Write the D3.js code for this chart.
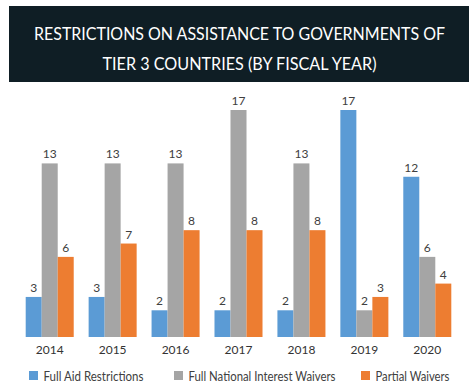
<!DOCTYPE html>
<html><head><meta charset="utf-8">
<script src="https://cdn.jsdelivr.net/npm/d3@7"></script>
<style>body{margin:0;background:#fff}svg{display:block}</style>
</head><body>
<svg id="c" width="474" height="387"></svg>
<script>
const years = ["2014","2015","2016","2017","2018","2019","2020"];
const fullAid = [3,3,2,2,2,17,12];
const nationalWaivers = [13,13,13,17,13,2,6];
const partialWaivers = [6,7,8,8,8,3,4];
const seriesNames = ["Full Aid Restrictions","Full National Interest Waivers","Partial Waivers"];
const colors = ["#5b9bd5","#a5a5a5","#ed7d31"];
const titleLines = ["RESTRICTIONS ON ASSISTANCE TO GOVERNMENTS OF","TIER 3 COUNTRIES (BY FISCAL YEAR)"];

const svg = d3.select("#c");
const font = "Lato, 'Open Sans', sans-serif";
const titleWidths = [411, 274];
const legWidths = [100, 147, 74];

svg.append("rect").attr("x",9).attr("y",6).attr("width",460).attr("height",76).attr("fill","#0f1e25");
svg.selectAll("text.title").data(titleLines).enter().append("text")
  .attr("x",239.5).attr("y",(d,i)=>39.5+i*30).attr("text-anchor","middle")
  .attr("fill","#ffffff").attr("font-family",font).attr("font-size",16.5)
  .attr("textLength",(d,i)=>titleWidths[i]).attr("lengthAdjust","spacingAndGlyphs")
  .text(d=>d);

const x = d3.scaleBand().domain(years).range([25.7,451.3]).paddingInner(0.237).paddingOuter(0);
const xs = d3.scaleBand().domain([0,1,2]).range([0,x.bandwidth()]);
const y = d3.scaleLinear().domain([0,17]).range([337,110]);

const series = [fullAid, nationalWaivers, partialWaivers];
const rows = [];
years.forEach((yr,i)=>series.forEach((s,k)=>rows.push({yr,k,v:s[i]})));

const g = svg.append("g");
g.selectAll("rect.bar").data(rows).enter().append("rect")
  .attr("x",d=>x(d.yr)+xs(d.k)).attr("width",xs.bandwidth())
  .attr("y",d=>y(d.v)).attr("height",d=>y(0)-y(d.v)).attr("fill",d=>colors[d.k]);
g.selectAll("text.val").data(rows).enter().append("text")
  .attr("x",d=>x(d.yr)+xs(d.k)+xs.bandwidth()/2).attr("y",d=>y(d.v)-5)
  .attr("text-anchor","middle").attr("font-family",font).attr("font-size",12)
  .attr("fill","#404040").text(d=>d.v);

const xAxis = svg.append("g").attr("transform","translate(0,337)")
  .call(d3.axisBottom(x).tickSize(0).tickPadding(8));
xAxis.select(".domain").remove();
xAxis.selectAll("text").attr("font-family",font).attr("font-size",12).attr("fill","#333");

const legX = [29,174,361];
const leg = svg.selectAll("g.leg").data(seriesNames).enter().append("g")
  .attr("transform",(d,i)=>`translate(${legX[i]},371)`);
leg.append("rect").attr("width",9).attr("height",9).attr("fill",(d,i)=>colors[i]);
leg.append("text").attr("x",14.5).attr("y",9.5).attr("font-family",font).attr("font-size",13)
  .attr("textLength",(d,i)=>legWidths[i]).attr("lengthAdjust","spacingAndGlyphs")
  .attr("fill","#404040").text(d=>d);
</script>
</body></html>
